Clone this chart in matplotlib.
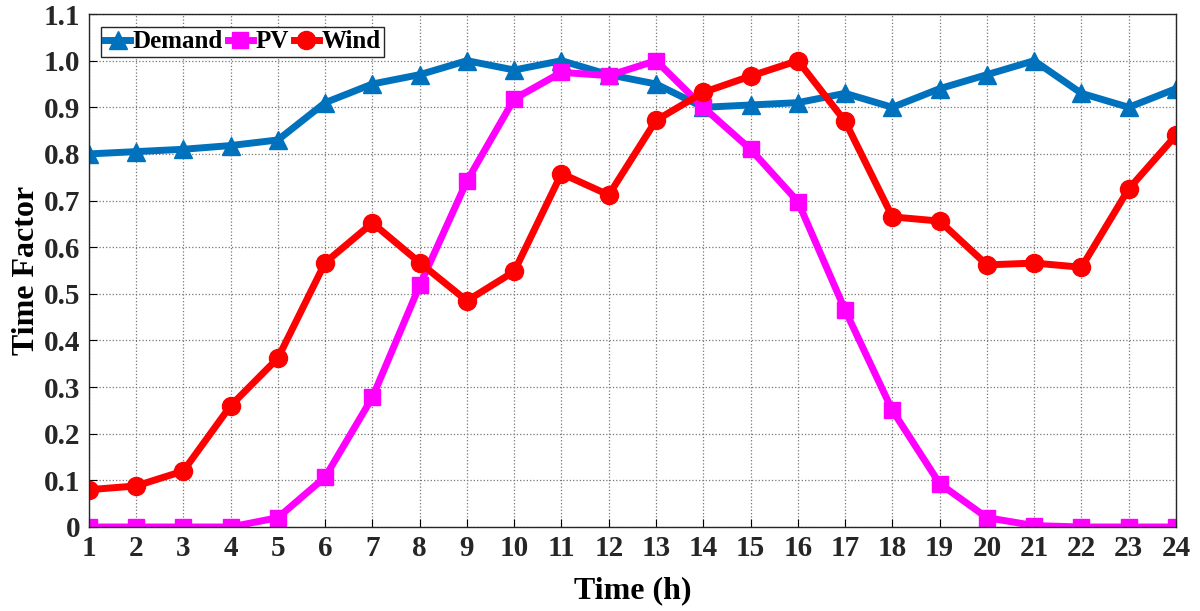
import matplotlib.pyplot as plt

hours = list(range(1, 25))
demand = [0.80, 0.805, 0.81, 0.818, 0.83, 0.91, 0.95, 0.97, 1.0, 0.98, 1.0, 0.97,
          0.95, 0.90, 0.905, 0.91, 0.93, 0.90, 0.94, 0.97, 1.0, 0.93, 0.90, 0.94]
pv = [0, 0, 0, 0, 0.02, 0.107, 0.278, 0.518, 0.742, 0.918, 0.975, 0.968,
      1.0, 0.90, 0.81, 0.698, 0.465, 0.25, 0.093, 0.02, 0.003, 0, 0, 0]
wind = [0.08, 0.088, 0.12, 0.26, 0.362, 0.567, 0.652, 0.567, 0.485, 0.548, 0.758, 0.712,
        0.872, 0.932, 0.967, 1.0, 0.87, 0.665, 0.656, 0.562, 0.566, 0.557, 0.725, 0.84]

plt.rcParams['font.family'] = ['Liberation Serif', 'DejaVu Serif']
plt.rcParams['font.weight'] = 'bold'

fig = plt.figure(figsize=(12, 6.11), dpi=100)
ax = fig.add_axes([0.074, 0.1375, 0.906, 0.8395])

ax.plot(hours, demand, color='#0072BD', lw=5, marker='^', ms=13, label='Demand')
ax.plot(hours, pv, color='#FF00FF', lw=5, marker='s', ms=11, label='PV')
ax.plot(hours, wind, color='#FF0000', lw=5, marker='o', ms=13, label='Wind')

ax.set_xlim(1, 24)
ax.set_ylim(0, 1.1)
ax.set_xticks(hours)
yt = [i / 10 for i in range(12)]
ax.set_yticks(yt)
ax.set_yticklabels(['0'] + ['%.1f' % v for v in yt[1:]])
ax.tick_params(direction='in', labelsize=21, length=6, pad=6)
for lab in ax.get_xticklabels() + ax.get_yticklabels():
    lab.set_fontweight('bold')
    lab.set_color('#262626')
ax.grid(True, linestyle=':', color='#777777', lw=0.9)
for s in ax.spines.values():
    s.set_color('#262626')
    s.set_linewidth(1.0)

ax.set_xlabel('Time (h)', fontsize=23, fontweight='bold', labelpad=10)
ax.set_ylabel('Time Factor', fontsize=23, fontweight='bold', labelpad=2)

leg = ax.legend(loc='upper left', ncol=3, fontsize=18, handlelength=1.0,
                columnspacing=0.2, handletextpad=0.1, borderpad=0.15,
                fancybox=False, framealpha=1, edgecolor='#262626',
                bbox_to_anchor=(0.0, 1.0), borderaxespad=0.5)
leg.get_frame().set_linewidth(1.0)

fig.savefig('out.png', dpi=100)
